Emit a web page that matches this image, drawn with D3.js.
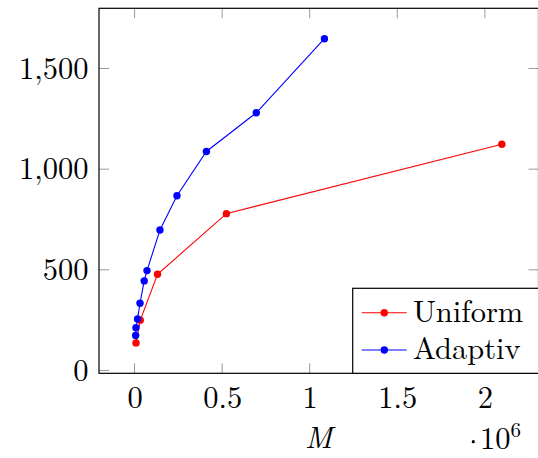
<!DOCTYPE html>
<html><head><meta charset="utf-8">
<script src="https://cdn.jsdelivr.net/npm/d3@7"></script>
<style>body{margin:0;background:#fff}svg{display:block}</style>
</head><body>
<svg id="c" width="538" height="458"></svg>
<script>
const seriesNames = ["Uniform", "Adaptiv"];
const seriesColors = ["#ff0000", "#0000ff"];
const uniformM = [8192, 32768, 131072, 524288, 2097152];
const uniformV = [137, 250, 478, 779, 1124];
const adaptivM = [6000, 8000, 17000, 31000, 55000, 71000, 145000, 242000, 410000, 695000, 1084000];
const adaptivV = [174, 212, 256, 334, 445, 496, 698, 868, 1088, 1280, 1648];
const xTicks = [0, 500000, 1000000, 1500000, 2000000];
const yTicks = [0, 500, 1000, 1500];
const xLabel = "M";

const L = 99, R = 538.5, T = 8.3, B = 373.3;
const svg = d3.select("#c");
const font = '"Latin Modern Roman", "CMU Serif", "Liberation Serif", serif';
const fs = 30.5;

const allM = uniformM.concat(adaptivM), allV = uniformV.concat(adaptivV);
const mx = d3.extent(allM), vy = d3.extent(allV);
const ex = 0.1 * (mx[1] - mx[0]), ey = 0.1 * (vy[1] - vy[0]);
const x = d3.scaleLinear().domain([mx[0] - ex, mx[1] + ex]).range([L, R]);
const y = d3.scaleLinear().domain([vy[0] - ey, vy[1] + ey]).range([B, T]);

const tickLen = 10;
const g = svg.append("g");
const fmtY = d3.format(",");
const fmtX = v => d3.format("")(v / 1e6);

xTicks.forEach(v => {
  g.append("line").attr("x1", x(v)).attr("x2", x(v)).attr("y1", B).attr("y2", B - tickLen)
    .attr("stroke", "#999").attr("stroke-width", 1);
  g.append("line").attr("x1", x(v)).attr("x2", x(v)).attr("y1", T).attr("y2", T + tickLen)
    .attr("stroke", "#999").attr("stroke-width", 1);
});
yTicks.forEach(v => {
  g.append("line").attr("x1", L).attr("x2", L + tickLen).attr("y1", y(v)).attr("y2", y(v))
    .attr("stroke", "#999").attr("stroke-width", 1);
  g.append("line").attr("x1", R).attr("x2", R - tickLen).attr("y1", y(v)).attr("y2", y(v))
    .attr("stroke", "#999").attr("stroke-width", 1);
});

const axB = d3.axisBottom(x).tickValues(xTicks).tickSize(0).tickFormat(fmtX).tickPadding(0);
const axL = d3.axisLeft(y).tickValues(yTicks).tickSize(0).tickFormat(fmtY).tickPadding(0);

const gx = svg.append("g").attr("transform", `translate(0,408)`).call(axB);
gx.attr("font-family", null).attr("font-size", null);
gx.select(".domain").remove();
gx.selectAll("text").style("font-family", font).style("font-size", fs + "px").attr("fill", "#000")
  .attr("y", 0).attr("dy", 0);
const gy = svg.append("g").attr("transform", `translate(${L - 10.5},0)`).call(axL);
gy.attr("font-family", null).attr("font-size", null);
gy.select(".domain").remove();
gy.selectAll("text").style("font-family", font).style("font-size", fs + "px").attr("fill", "#000")
  .attr("dy", "0.32em");

const data = [
  uniformM.map((m, i) => [m, uniformV[i]]),
  adaptivM.map((m, i) => [m, adaptivV[i]])
];
const line = d3.line().x(d => x(d[0])).y(d => y(d[1]));
data.forEach((ds, k) => {
  svg.append("path").attr("d", line(ds)).attr("fill", "none")
    .attr("stroke", seriesColors[k]).attr("stroke-width", 1.1);
  svg.append("g").selectAll("circle").data(ds).join("circle")
    .attr("cx", d => x(d[0])).attr("cy", d => y(d[1])).attr("r", 3.7)
    .attr("fill", seriesColors[k]);
});

svg.append("rect").attr("x", L).attr("y", T).attr("width", R - L).attr("height", B - T)
  .attr("fill", "none").attr("stroke", "#000").attr("stroke-width", 1.2);

const lg = svg.append("g");
lg.append("rect").attr("x", 352.7).attr("y", 288.3).attr("width", 200).attr("height", B - 288.3)
  .attr("fill", "#fff").attr("stroke", "#000").attr("stroke-width", 1.2);
const ly = [312.7, 350];
const lb = [321.7, 359];
seriesNames.forEach((n, k) => {
  lg.append("line").attr("x1", 361.7).attr("x2", 406.7).attr("y1", ly[k]).attr("y2", ly[k])
    .attr("stroke", seriesColors[k]).attr("stroke-width", 1.1);
  lg.append("circle").attr("cx", 384.3).attr("cy", ly[k]).attr("r", 3.7).attr("fill", seriesColors[k]);
  lg.append("text").attr("x", 413).attr("y", lb[k]).text(n)
    .style("font-family", font).style("font-size", fs + "px").attr("fill", "#000");
});

svg.append("text").attr("x", (L + R) / 2).attr("y", 448).attr("text-anchor", "middle")
  .style("font-family", font).style("font-style", "italic").style("font-size", fs + "px").text(xLabel);
// exponent: cdot 10^6
svg.append("circle").attr("cx", 473.3).attr("cy", 441.7).attr("r", 1.6).attr("fill", "#000");
const e6 = svg.append("text").attr("x", 480).attr("y", 449)
  .style("font-family", font).style("font-size", fs + "px");
e6.append("tspan").text("10");
e6.append("tspan").style("font-size", "21px").attr("dy", -12).text("6");
</script>
</body></html>
